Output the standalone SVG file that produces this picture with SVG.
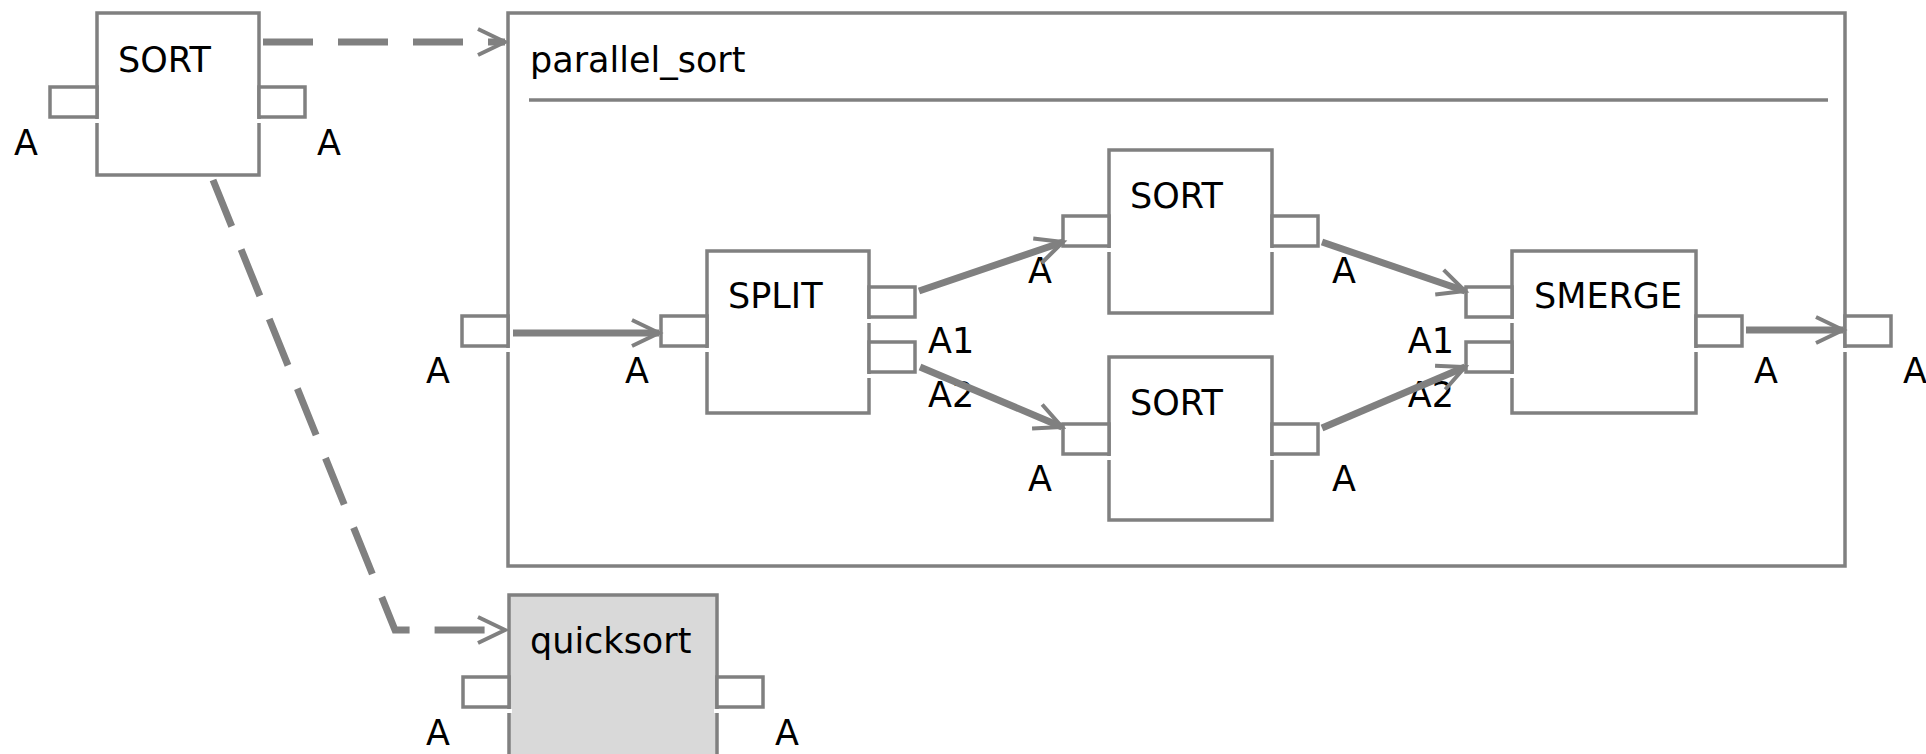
<svg xmlns="http://www.w3.org/2000/svg" width="1926" height="754" viewBox="0 0 1926 754">
<style>
.box{fill:#fff;stroke:#808080;stroke-width:3.5}
.port{fill:#fff;stroke:#808080;stroke-width:3.5}
.gap{fill:#fff;stroke:none}
.t{font-family:"DejaVu Sans","Liberation Sans",sans-serif;font-size:35px;fill:#000}
.sep{stroke:#808080;stroke-width:3.5}
.dash{fill:none;stroke:#808080;stroke-width:7;stroke-dasharray:50 25}
.flow{fill:none;stroke:#808080;stroke-width:7}
</style>
<defs>
<marker id="arr" markerUnits="userSpaceOnUse" orient="auto" refX="0" refY="0" markerWidth="40" markerHeight="40" overflow="visible">
<path d="M-27,-13 L0,0 L-27,13" fill="none" stroke="#808080" stroke-width="4"/>
</marker>
</defs>
<rect width="1926" height="754" fill="#fff"/>

<g id="sort_top">
<rect class="box" x="97" y="13" width="162" height="162"/>
<rect class="port" x="50" y="87" width="47" height="30"/>
<rect class="gap" x="94" y="119" width="6" height="4"/>
<rect class="port" x="259" y="87" width="46" height="30"/>
<rect class="gap" x="256" y="119" width="6" height="4"/>
<text class="t" x="118" y="72">SORT</text>
<text class="t" x="14" y="155">A</text>
<text class="t" x="317" y="155">A</text>
</g>

<g id="parallel_sort">
<rect class="box" x="508" y="13" width="1337" height="553"/>
<text class="t" x="530" y="72">parallel_sort</text>
<line class="sep" x1="529" y1="100" x2="1828" y2="100"/>
<rect class="port" x="462" y="316" width="46" height="30"/>
<rect class="gap" x="505" y="348" width="6" height="4"/>
<text class="t" x="426" y="383">A</text>
<rect class="port" x="1845" y="316" width="46" height="30"/>
<rect class="gap" x="1842" y="348" width="6" height="4"/>
<text class="t" x="1903" y="383">A</text>
</g>

<g id="split">
<rect class="box" x="707" y="251" width="162" height="162"/>
<text class="t" x="728" y="308">SPLIT</text>
<rect class="port" x="661" y="316" width="46" height="30"/>
<rect class="gap" x="704" y="348" width="6" height="4"/>
<text class="t" x="625" y="383">A</text>
<rect class="port" x="869" y="287" width="46" height="30"/>
<rect class="gap" x="866" y="319" width="6" height="4"/>
<rect class="port" x="869" y="342" width="46" height="30"/>
<rect class="gap" x="866" y="374" width="6" height="4"/>
<text class="t" x="928" y="353">A1</text>
<text class="t" x="928" y="407">A2</text>
</g>

<g id="sort1">
<rect class="box" x="1109" y="150" width="163" height="163"/>
<text class="t" x="1130" y="208">SORT</text>
<rect class="port" x="1063" y="216" width="46" height="30"/>
<rect class="gap" x="1106" y="248" width="6" height="4"/>
<rect class="port" x="1272" y="216" width="46" height="30"/>
<rect class="gap" x="1269" y="248" width="6" height="4"/>
<text class="t" x="1028" y="283">A</text>
<text class="t" x="1332" y="283">A</text>
</g>

<g id="sort2">
<rect class="box" x="1109" y="357" width="163" height="163"/>
<text class="t" x="1130" y="415">SORT</text>
<rect class="port" x="1063" y="424" width="46" height="30"/>
<rect class="gap" x="1106" y="456" width="6" height="4"/>
<rect class="port" x="1272" y="424" width="46" height="30"/>
<rect class="gap" x="1269" y="456" width="6" height="4"/>
<text class="t" x="1028" y="491">A</text>
<text class="t" x="1332" y="491">A</text>
</g>

<g id="smerge">
<rect class="box" x="1512" y="251" width="184" height="162"/>
<text class="t" x="1534" y="308">SMERGE</text>
<rect class="port" x="1466" y="287" width="46" height="30"/>
<rect class="gap" x="1509" y="319" width="6" height="4"/>
<rect class="port" x="1466" y="342" width="46" height="30"/>
<rect class="gap" x="1509" y="374" width="6" height="4"/>
<text class="t" x="1454" y="353" text-anchor="end">A1</text>
<text class="t" x="1454" y="407" text-anchor="end">A2</text>
<rect class="port" x="1696" y="316" width="46" height="30"/>
<rect class="gap" x="1693" y="348" width="6" height="4"/>
<text class="t" x="1754" y="383">A</text>
</g>

<g id="quicksort">
<rect x="509" y="595" width="208" height="220" fill="#d9d9d9" stroke="#808080" stroke-width="3.5"/>
<text class="t" x="530" y="653">quicksort</text>
<rect class="port" x="463" y="677" width="46" height="30"/>
<rect class="gap" x="506" y="709" width="6" height="4"/>
<text class="t" x="426" y="745">A</text>
<rect class="port" x="717" y="677" width="46" height="30"/>
<rect class="gap" x="714" y="709" width="6" height="4"/>
<text class="t" x="775" y="745">A</text>
</g>

<g id="connectors">
<path class="dash" d="M263,42 H505" marker-end="url(#arr)"/>
<path class="dash" d="M213,180 L395,630 H505" marker-end="url(#arr)"/>
<path class="flow" d="M513,333 H659" marker-end="url(#arr)"/>
<path class="flow" d="M919,291 L1063,242" marker-end="url(#arr)"/>
<path class="flow" d="M920,367 L1062,427" marker-end="url(#arr)"/>
<path class="flow" d="M1322,242 L1465,291" marker-end="url(#arr)"/>
<path class="flow" d="M1322,428 L1465,367" marker-end="url(#arr)"/>
<path class="flow" d="M1746,330 H1843" marker-end="url(#arr)"/>
</g>
</svg>
